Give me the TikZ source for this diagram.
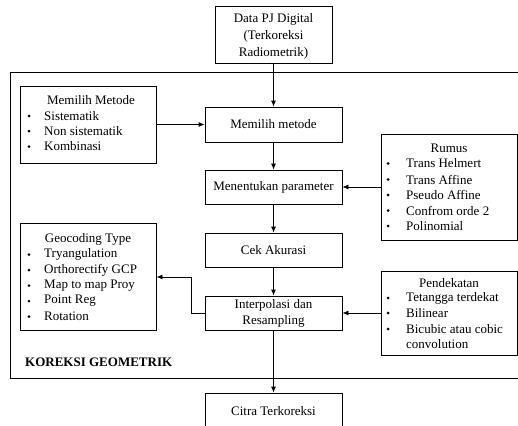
\documentclass[tikz,border=0pt]{standalone}
\usepackage{fontspec}
\setmainfont{Liberation Serif}
\usetikzlibrary{arrows.meta}
\begin{document}
\begin{tikzpicture}[x=1pt,y=-1pt,
  font=\fontsize{13}{15}\selectfont,
  box/.style={draw,line width=0.8pt,minimum width=137pt,minimum height=34pt,inner sep=0pt,align=center},
  listbox/.style={draw,line width=0.8pt,minimum width=136pt,inner sep=0pt},
  txt/.style={inner sep=0pt,anchor=west},
  ttl/.style={inner sep=0pt},
  dot/.style={circle,fill,inner sep=0pt,minimum size=3pt},
  arr/.style={line width=0.8pt,-{Latex[length=6pt,width=5pt]}}]
\useasboundingbox (0,0) rectangle (518,425);
\begin{scope}
\clip (0,0) rectangle (518,425);
% outer frame of the geometric correction stage
\draw[line width=0.8pt] (10,72) rectangle (540,378);
\node[anchor=west,inner sep=0pt,font=\fontsize{13}{15}\selectfont\bfseries] (kg) at (25,362) {KOREKSI GEOMETRIK};

% main column
\node[box,minimum width=117pt,minimum height=57pt] (data) at (273.5,34.5) {};
\node[ttl] at (273.5,19) {Data PJ Digital};
\node[ttl] at (273.5,36.5) {(Terkoreksi};
\node[ttl] at (273.5,53) {Radiometrik)};
\node[box,minimum height=35pt] (metode) at (273.5,124.5) {Memilih metode};
\node[box] (param) at (273.5,187) {Menentukan parameter};
\node[box] (cek) at (273.5,250) {Cek Akurasi};
\node[box,minimum height=34pt] (interp) at (273.5,313) {};
\node[ttl] at (273.5,305) {Interpolasi dan};
\node[ttl] at (273.5,321) {Resampling};
\node[box,minimum height=35pt] (citra) at (273.5,410.5) {};
\node[ttl] at (273.5,411) {Citra Terkoreksi};

% side boxes
\node[listbox,minimum height=77pt] (pilih) at (88,124.5) {};
\node[ttl] at (91,100) {Memilih Metode};
\foreach \y/\t in {116/Sistematik,131/Non sistematik,146.5/Kombinasi}{
  \node[dot] at (29,\y) {}; \node[txt] at (44,\y) {\t};}

\node[listbox,minimum height=107pt] (geo) at (88,276.5) {};
\node[ttl] at (88,239) {Geocoding Type};
\foreach \y/\t in {254.5/Tryangulation,270/Orthorectify GCP,285.5/Map to map Proy,301/Point Reg,316.5/Rotation}{
  \node[dot] at (29,\y) {}; \node[txt] at (44,\y) {\t};}

\node[listbox,minimum height=106pt] (rumus) at (449,187) {};
\node[ttl] at (449,148.5) {Rumus};
\foreach \y/\t in {163.5/Trans Helmert,179.5/Trans Affine,195/Pseudo Affine,210.5/Confrom orde 2,226/Polinomial}{
  \node[dot] at (388,\y) {}; \node[txt] at (406,\y) {\t};}

\node[listbox,minimum height=84pt] (dekat) at (449,313) {};
\node[ttl] at (449,283) {Pendekatan};
\node[dot] at (388,298) {}; \node[txt] at (406,298) {Tetangga terdekat};
\node[dot] at (388,313) {}; \node[txt] at (406,313) {Bilinear};
\node[dot] at (388,329) {}; \node[txt] at (406,329) {Bicubic atau cobic};
\node[txt] at (406,344) {convolution};

% connectors
\draw[arr] (data) -- (metode);
\draw[arr] (metode) -- (param);
\draw[arr] (param) -- (cek);
\draw[arr] (cek) -- (interp);
\draw[arr] (interp) -- (citra);
\draw[arr] (pilih.east) -- (metode.west);
\draw[arr] (rumus.west) -- (param.east);
\draw[arr] (dekat.west) -- (interp.east);
\coordinate (bend) at (191,313);
\draw[arr] (interp.west) -- (bend) |- (geo.east |- 0,277);
\end{scope}
\end{tikzpicture}
\end{document}
